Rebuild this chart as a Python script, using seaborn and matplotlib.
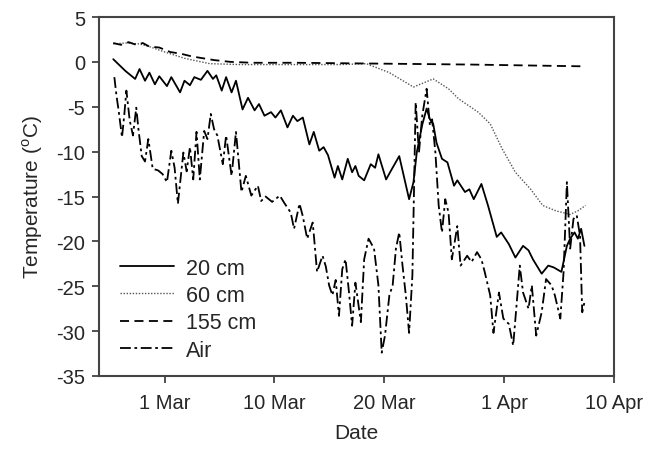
import matplotlib
matplotlib.use("Agg")
import matplotlib.pyplot as plt
import seaborn as sns
import pandas as pd

# Day number (1 Mar = 60) and temperature (°C)
day_20 = [55.3, 56.4, 57.3, 57.7, 58.2, 58.6, 59.1, 59.5, 60.2, 60.6, 61.4, 61.8, 62.3, 62.7,
          63.3, 63.9, 64.4, 64.7, 65.2, 65.6, 66.1, 66.5, 67.1, 67.6, 68.2, 68.6, 69.1, 69.7,
          70.1, 70.6, 71.2, 71.7, 72.1, 72.6, 73.2, 73.6, 74.1, 74.5, 74.9, 75.5, 75.8, 76.2,
          76.7, 77.1, 77.4, 77.7, 78.2, 78.8, 79.2, 79.5, 80.2, 80.7, 81.4, 82.3, 82.7, 83.0,
          83.5, 83.9, 84.2, 84.5, 84.8, 85.3, 85.8, 86.4, 86.7, 87.4, 87.8, 88.2, 88.9, 89.5,
          90.3, 90.7, 91.4, 92.0, 92.7, 93.2, 93.6, 94.4, 95.0, 95.5, 96.2, 96.7, 97.0, 97.4,
          97.7, 98.0, 98.3]
temp_20 = [0.3, -1.0, -1.9, -0.8, -2.1, -1.2, -2.5, -1.6, -2.7, -1.7, -3.4, -2.1, -2.6, -1.7,
           -2.0, -1.0, -1.9, -1.5, -3.2, -1.7, -3.4, -2.1, -5.3, -4.0, -5.4, -4.7, -6.0, -5.6,
           -6.2, -5.4, -7.3, -6.0, -6.6, -6.2, -9.2, -7.8, -9.9, -9.5, -10.4, -12.9, -11.6, -13.1,
           -10.8, -12.3, -11.6, -12.7, -13.2, -11.4, -11.8, -10.3, -13.1, -12.0, -10.5, -15.3, -13.4, -10.1,
           -7.0, -5.2, -6.4, -6.9, -9.0, -10.8, -11.2, -13.8, -13.2, -14.5, -14.2, -15.3, -13.6, -16.0,
           -19.5, -19.0, -20.3, -21.8, -20.5, -21.0, -22.0, -23.6, -22.7, -22.9, -23.4, -20.5, -19.7, -19.0,
           -19.7, -18.6, -20.5]

day_60 = [55.3, 56.4, 57.7, 58.6, 60.0, 61.8, 64.1, 66.8, 72.3, 76.0, 78.4, 80.5, 82.7, 84.5,
          85.9, 86.8, 88.6, 89.7, 90.8, 92.0, 93.4, 94.5, 95.7, 97.0, 97.7, 98.4]
temp_60 = [2.0, 2.1, 2.0, 1.7, 1.1, 0.4, -0.2, -0.3, -0.3, -0.3, -0.2, -1.2, -2.8, -1.9,
           -3.0, -4.1, -5.6, -6.9, -9.7, -12.3, -14.2, -16.0, -16.6, -17.0, -16.6, -16.0]

day_155 = [55.3, 56.0, 56.7, 57.4, 58.0, 58.6, 59.5, 60.5, 61.5, 62.5, 63.5, 64.5, 66.0, 68.0,
           72.0, 80.0, 88.0, 98.4]
temp_155 = [2.1, 1.9, 2.2, 1.9, 2.1, 1.7, 1.6, 1.1, 0.9, 0.6, 0.4, 0.2, 0.0, -0.1,
            -0.1, -0.2, -0.3, -0.5]

day_air = [55.4, 55.6, 55.8, 56.1, 56.3, 56.5, 56.8, 57.1, 57.4, 57.6, 57.9, 58.2, 58.5, 58.6,
           58.9, 59.4, 59.8, 60.2, 60.6, 60.9, 61.2, 61.7, 62.0, 62.3, 62.6, 62.9, 63.2, 63.6,
           63.9, 64.2, 64.5, 64.8, 65.3, 65.6, 66.1, 66.5, 67.0, 67.4, 67.9, 68.5, 68.8, 69.2,
           69.8, 70.5, 70.9, 71.5, 71.8, 72.3, 72.6, 73.0, 73.5, 73.6, 73.9, 74.4, 74.7, 75.0,
           75.3, 75.6, 75.9, 76.2, 76.5, 76.8, 77.1, 77.4, 77.9, 78.2, 78.6, 79.1, 79.5, 79.8,
           80.1, 80.5, 80.8, 81.1, 81.4, 81.7, 82.0, 82.3, 82.6, 82.9, 83.2, 83.5, 83.9, 84.2,
           84.4, 84.7, 85.0, 85.3, 85.6, 85.9, 86.2, 86.7, 87.0, 87.6, 88.0, 88.5, 88.9, 89.2,
           89.7, 90.0, 90.5, 90.9, 91.4, 91.8, 92.1, 92.4, 92.7, 93.2, 93.5, 93.9, 94.4, 94.8,
           95.3, 95.6, 96.1, 96.4, 96.7, 97.0, 97.3, 97.6, 97.9, 98.1, 98.3]
temp_air = [-1.7, -3.8, -5.5, -8.4, -6.0, -3.2, -6.5, -8.2, -5.1, -7.5, -10.5, -11.1, -8.6, -9.4,
            -11.9, -12.1, -12.5, -13.4, -9.9, -11.8, -15.8, -10.1, -12.2, -9.5, -13.1, -7.8, -13.1, -7.7,
            -8.6, -5.8, -7.5, -8.2, -11.4, -8.2, -12.7, -7.8, -14.5, -12.7, -14.9, -13.8, -15.5, -15.0,
            -15.6, -14.9, -15.7, -16.8, -18.6, -15.8, -17.2, -19.7, -17.9, -19.2, -23.4, -21.6, -22.8, -24.9,
            -26.0, -24.3, -28.3, -23.1, -22.0, -25.5, -29.4, -24.6, -29.0, -22.0, -19.7, -20.8, -24.9, -32.4,
            -30.5, -26.0, -24.9, -20.8, -19.0, -22.7, -26.0, -30.2, -23.8, -4.5, -10.1, -6.0, -3.0, -7.1,
            -6.4, -10.1, -16.0, -19.0, -15.3, -16.8, -22.0, -18.3, -22.7, -21.6, -22.3, -21.2, -22.0, -23.4,
            -26.0, -30.2, -25.7, -28.6, -29.2, -31.6, -27.2, -22.7, -25.7, -27.5, -24.9, -30.5, -27.9, -24.2,
            -24.9, -26.0, -28.6, -23.4, -13.4, -20.8, -17.5, -17.1, -19.4, -27.9, -26.8]

series_labels = ["20 cm", "60 cm", "155 cm", "Air"]
tick_days = [60, 70, 80, 91, 101]
tick_labels = ["1 Mar", "10 Mar", "20 Mar", "1 Apr", "10 Apr"]
y_ticks = [5, 0, -5, -10, -15, -20, -25, -30, -35]

sns.set_style("white")
plt.rcParams["font.family"] = ["Liberation Sans", "DejaVu Sans"]
plt.rcParams["mathtext.fontset"] = "custom"
plt.rcParams["mathtext.rm"] = "Liberation Sans"

fig = plt.figure(figsize=(6.67, 4.56), dpi=100)
ax = fig.add_axes([99 / 667, 1 - 377 / 456, 515 / 667, 359 / 456])

styles = [
    dict(color="black", linestyle="-", linewidth=1.3),
    dict(color="#555555", linestyle=(0, (1, 1.2)), linewidth=1.0),
    dict(color="black", linestyle=(0, (5, 3)), linewidth=1.3),
    dict(color="black", linestyle=(0, (6, 2, 1.5, 2)), linewidth=1.3),
]
data = [(day_20, temp_20), (day_60, temp_60), (day_155, temp_155), (day_air, temp_air)]
for (xs, ys), lab, st in zip(data, series_labels, styles):
    df = pd.DataFrame({"day": xs, "temp": ys})
    sns.lineplot(data=df, x="day", y="temp", ax=ax, label=lab, sort=False, **st)

ax.set_xlim(54, 101)
ax.set_ylim(-35, 5)
ax.set_xticks(tick_days)
ax.set_xticklabels(tick_labels)
ax.set_yticks(y_ticks)
ax.set_yticklabels([str(v) for v in y_ticks])
ax.tick_params(axis="both", which="both", direction="out", length=5, width=1.2,
               color="#333333", labelsize=14.5, bottom=True, left=True, top=False, right=False,
               pad=5)
ax.tick_params(axis="x", pad=7)
for sp in ax.spines.values():
    sp.set_color("#444444")
    sp.set_linewidth(1.5)

ax.set_xlabel("Date", fontsize=15, labelpad=8)
ax.set_ylabel(r"Temperature ($^{\rm o}$C)", fontsize=15, labelpad=8)

leg = ax.legend(loc="lower left", bbox_to_anchor=(0.041, 0.042), frameon=False, fontsize=15.5,
                handlelength=2.5, handletextpad=0.55, labelspacing=0.3, borderpad=0.0,
                borderaxespad=0.0)

fig.savefig("out.png", dpi=100)
